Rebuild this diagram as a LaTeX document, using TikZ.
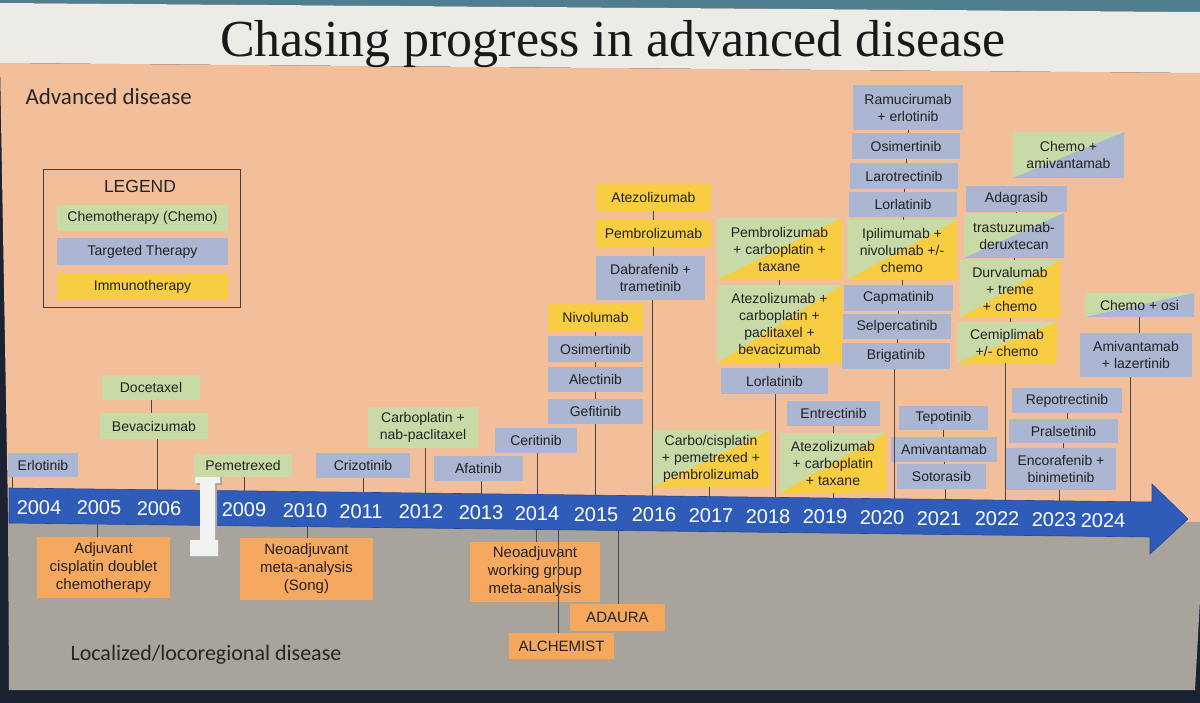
\documentclass[tikz,border=0pt]{standalone}
\usepackage{fontspec}
\setmainfont{Liberation Sans}
\newfontfamily\titlefont{Liberation Serif}
\newfontfamily\calfont{Carlito}
\definecolor{peach}{HTML}{F3BE9A}
\definecolor{grayreg}{HTML}{A8A49B}
\definecolor{axisblue}{HTML}{2F5CB8}
\definecolor{axisedge}{HTML}{24479A}
\definecolor{gbox}{HTML}{C8DAA5}
\definecolor{bbox}{HTML}{AAB6D2}
\definecolor{ybox}{HTML}{F8CD41}
\definecolor{obox}{HTML}{F6A85F}
\definecolor{txt}{HTML}{222222}
\definecolor{lnc}{HTML}{4A4440}
\definecolor{lnb}{HTML}{3E4A5A}
\definecolor{darkbg}{HTML}{1B2232}
\definecolor{titleband}{HTML}{ECEBE5}
\definecolor{topstrip}{HTML}{4F7F8F}
\tikzset{
  bxs/.style={inner sep=0pt, outer sep=0pt, align=center, text=txt, font=\fontsize{14}{17}\selectfont},
  gb/.style={fill=gbox}, bb/.style={fill=bbox}, yb/.style={fill=ybox},
  ob/.style={fill=obox, font=\fontsize{15}{18}\selectfont},
  split/.style 2 args={fill=#1, path picture={
    \fill[#1] (path picture bounding box.north west) -- (path picture bounding box.north east) -- (path picture bounding box.south west) -- cycle;
    \fill[#2] (path picture bounding box.north east) -- (path picture bounding box.south east) -- (path picture bounding box.south west) -- cycle;}},
  gy/.style={split={gbox}{ybox}},
  gbl/.style={split={gbox}{bbox}},
  conn/.style={draw=lnc, line width=0.7pt},
  connb/.style={draw=lnb, line width=0.7pt},
  yr/.style={text=white, font=\fontsize{20}{20}\selectfont},
}
\newcommand{\bxn}[7]{\node[bxs,#2,minimum width={(#5)-(#3)},minimum height={(#6)-(#4)}] (#1) at ({((#3)+(#5))/2},{((#4)+(#6))/2}) {#7};}
\newcommand{\axc}[2]{\coordinate (#1) at (#2,{488+((#2)-10)*0.01226});}
\newcommand{\axb}[2]{\coordinate (#1) at (#2,{523+((#2)-10)*0.01226});}
\begin{document}
\begin{tikzpicture}[x=1pt,y=-1pt]
\useasboundingbox (0,0) rectangle (1200,703);
% backgrounds
\fill[darkbg] (0,0) rectangle (1200,703);
\fill[topstrip] (0,0) -- (1200,0) -- (1200,12) -- (0,3) -- cycle;
\fill[titleband] (0,3) -- (1200,12) -- (1200,73) -- (0,63) -- cycle;
\fill[peach] (0,63) -- (1200,73) -- (1200,522) -- (8,512) -- cycle;
\fill[grayreg] (8,512) -- (1200,522) -- (1200,600) -- (1195,690) -- (9,690) -- cycle;
% title and region labels
\node[font=\titlefont\fontsize{52}{52}\selectfont, text=black!90, anchor=base] (title) at (613,57) {Chasing progress in advanced disease};
\node[anchor=west, font=\calfont\fontsize{23}{23}\selectfont, text=black!85] (adv) at (22,97) {Advanced disease};
\node[anchor=west, font=\calfont\fontsize{22}{22}\selectfont, text=black!85] (loc) at (67,655) {Localized/locoregional disease};
% legend
\node[draw=black!75, line width=0.8pt, minimum width=197, minimum height=138, inner sep=0pt] (legend) at (141.5,238) {};
\node[text=txt, font=\fontsize{17.5}{17.5}\selectfont] (legt) at (140,186) {LEGEND};
\bxn{lchemo}{gb}{57}{205}{228}{231}{Chemotherapy (Chemo)}
\bxn{ltarg}{bb}{57}{238}{228}{265}{Targeted Therapy}
\bxn{limmu}{yb}{57}{273}{228}{300}{Immunotherapy}
% axis band
\fill[axisblue, draw=axisedge, line width=0.6pt] (9,488) -- (1152,502) -- (1152,484) -- (1188,519) -- (1150,554) -- (1150,537) -- (9,523) -- cycle;
\foreach \yl/\xx in {2004/39,2005/99,2006/159,2009/244,2010/305,2011/361,2012/421,2013/481,2014/537,2015/596,2016/654,2017/711,2018/768,2019/825,2020/882,2021/939,2022/997,2023/1054,2024/1103}
  \node[yr] (y\yl) at (\xx,{507+(\xx-10)*0.01226}) {\yl};
% break marker
\fill[black!35] (197,477) -- (222,477) -- (222,485) -- (217,485) -- (217,542) -- (220,542) -- (220,558) -- (192,558) -- (192,542) -- (202,542) -- (202,485) -- (197,485) -- cycle;
\fill[white!95!black] (195,475) -- (220,475) -- (220,483) -- (215,483) -- (215,540) -- (218,540) -- (218,556) -- (190,556) -- (190,540) -- (200,540) -- (200,483) -- (195,483) -- cycle;
% axis coordinates
\axc{a2004}{12} \axc{a2006}{157} \axc{a2009}{244} \axc{a2011}{363}
\axc{a2012}{425} \axc{a2013}{481} \axc{a2014}{537} \axc{a2015}{595}
\axc{a2016}{652} \axc{a2017}{709} \axc{a2018}{775} \axc{a2019}{833}
\axc{a2020}{894} \axc{a2021}{945} \axc{a2022}{1005} \axc{a2023}{1059}
\axc{a2024}{1130}
\axb{b2005}{97} \axb{b2010}{307} \axb{b2014}{536} \axb{bAl}{558} \axb{b2015}{618}
% ---------- advanced disease boxes ----------
\bxn{erl}{bb}{8}{453}{78}{477}{Erlotinib}
\bxn{doc}{gb}{102}{375}{200}{400}{Docetaxel}
\bxn{bev}{gb}{100}{413}{208}{439}{Bevacizumab}
\bxn{pem}{gb}{194}{454}{292}{477}{Pemetrexed}
\bxn{criz}{bb}{316}{453}{410}{478}{Crizotinib}
\bxn{carbnab}{gb}{368}{407}{478}{448}{Carboplatin +\\nab-paclitaxel}
\bxn{afat}{bb}{434}{456}{523}{481}{Afatinib}
\bxn{cerit}{bb}{495}{428}{577}{453}{Ceritinib}
\bxn{nivo}{yb}{548}{303}{643}{332}{Nivolumab}
\bxn{osi1}{bb}{548}{336}{643}{362}{Osimertinib}
\bxn{alec}{bb}{548}{367}{643}{392}{Alectinib}
\bxn{gefi}{bb}{548}{399}{643}{424}{Gefitinib}
\bxn{atezo1}{yb}{596}{183}{711}{211}{Atezolizumab}
\bxn{pembro1}{yb}{596}{220}{711}{247}{Pembrolizumab}
\bxn{dabra}{bb}{596}{256}{705}{300}{Dabrafenib +\\trametinib}
\bxn{carbocis}{gy}{652}{430}{770}{487}{Carbo/cisplatin\\+ pemetrexed +\\pembrolizumab}
\bxn{pembcarb}{gy}{717}{218}{842}{280}{Pembrolizumab\\+ carboplatin +\\taxane}
\bxn{atezocarb}{gy}{717}{285}{842}{363}{Atezolizumab +\\carboplatin +\\paclitaxel +\\bevacizumab}
\bxn{lorla1}{bb}{721}{368}{828}{394}{Lorlatinib}
\bxn{entre}{bb}{787}{401}{880}{426}{Entrectinib}
\bxn{atezotax}{gy}{780}{433}{886}{493}{Atezolizumab\\+ carboplatin\\+ taxane}
\bxn{ramu}{bb}{853}{85}{963}{130}{Ramucirumab\\+ erlotinib}
\bxn{osi2}{bb}{852}{133}{960}{159}{Osimertinib}
\bxn{laro}{bb}{850}{163}{958}{189}{Larotrectinib}
\bxn{lorla2}{bb}{849}{192}{957}{217}{Lorlatinib}
\bxn{ipi}{gy}{847}{220}{957}{280}{Ipilimumab +\\nivolumab +/-\\chemo}
\bxn{capma}{bb}{844}{285}{953}{311}{Capmatinib}
\bxn{selper}{bb}{843}{314}{951}{339}{Selpercatinib}
\bxn{briga}{bb}{842}{343}{950}{369}{Brigatinib}
\bxn{tepo}{bb}{899}{406}{988}{430}{Tepotinib}
\bxn{amiva}{bb}{891}{437}{997}{462}{Amivantamab}
\bxn{soto}{bb}{897}{464}{986}{489}{Sotorasib}
\bxn{adag}{bb}{966}{186}{1067}{212}{Adagrasib}
\bxn{trastu}{gbl}{964}{213}{1064}{258}{trastuzumab-\\deruxtecan}
\bxn{durva}{gy}{960}{260}{1060}{318}{Durvalumab\\+ treme\\+ chemo}
\bxn{cemi}{gy}{957}{322}{1057}{363}{Cemiplimab\\+/- chemo}
\bxn{chemoamiv}{gbl}{1013}{132}{1124}{178}{Chemo +\\amivantamab}
\bxn{repo}{bb}{1012}{388}{1122}{413}{Repotrectinib}
\bxn{pral}{bb}{1009}{419}{1118}{443}{Pralsetinib}
\bxn{enco}{bb}{1006}{448}{1116}{490}{Encorafenib +\\binimetinib}
\bxn{chemoosi}{gbl}{1085}{293}{1194}{317}{Chemo + osi}
\bxn{amilaz}{bb}{1080}{333}{1192}{377}{Amivantamab\\+ lazertinib}
% stack connectors
\foreach \a/\b in {doc/bev, nivo/osi1, osi1/alec, alec/gefi, atezo1/pembro1, pembro1/dabra,
  pembcarb/atezocarb, atezocarb/lorla1, entre/atezotax, ramu/osi2, osi2/laro, laro/lorla2,
  lorla2/ipi, ipi/capma, capma/selper, selper/briga, tepo/amiva, amiva/soto,
  adag/trastu, trastu/durva, durva/cemi, repo/pral, pral/enco, chemoosi/amilaz}
  \draw[conn] (\a.south) -- (\a.south |- \b.north);
% connectors to the axis
\foreach \bx/\ax in {erl/a2004, bev/a2006, pem/a2009, criz/a2011, carbnab/a2012, afat/a2013,
  cerit/a2014, gefi/a2015, dabra/a2016, carbocis/a2017, lorla1/a2018, atezotax/a2019,
  briga/a2020, soto/a2021, cemi/a2022, enco/a2023, amilaz/a2024}
  \draw[conn] (\ax |- \bx.south) -- (\ax);
% ---------- localized disease boxes ----------
\bxn{adj}{ob}{37}{537}{170}{598}{Adjuvant\\cisplatin doublet\\chemotherapy}
\bxn{neo1}{ob}{240}{538}{373}{600}{Neoadjuvant\\meta-analysis\\(Song)}
\bxn{neo2}{ob}{470}{542}{600}{602}{Neoadjuvant\\working group\\meta-analysis}
\bxn{adaura}{ob}{570}{604}{665}{631}{ADAURA}
\bxn{alch}{ob}{509}{633}{614}{659}{ALCHEMIST}
\draw[connb] (b2005) -- (b2005 |- adj.north);
\draw[connb] (b2010) -- (b2010 |- neo1.north);
\draw[connb] (b2014) -- (b2014 |- neo2.north);
\draw[connb] (b2015) -- (b2015 |- adaura.north);
\draw[connb] (bAl) -- (bAl |- alch.north);
\end{tikzpicture}
\end{document}
